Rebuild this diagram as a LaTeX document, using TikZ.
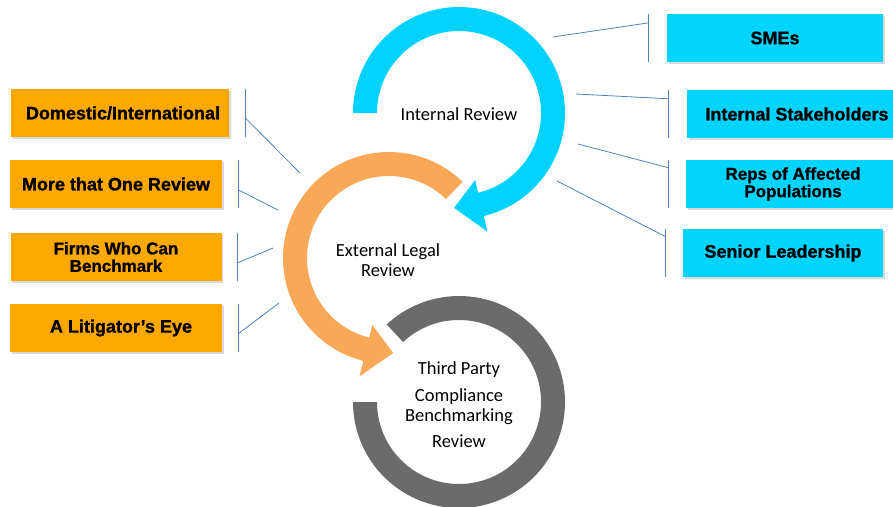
\documentclass[tikz,border=0pt]{standalone}
\usepackage{fontspec}
\setmainfont{Carlito}
\newfontfamily\boxfont[BoldFeatures={FakeBold=1.2}]{Liberation Sans}
\usetikzlibrary{shadows}

\definecolor{ringblue}{HTML}{00D2FF}
\definecolor{ringorange}{HTML}{F9A857}
\definecolor{ringgray}{HTML}{6B6B6B}
\definecolor{boxblue}{HTML}{00D4FF}
\definecolor{boxorange}{HTML}{FFA800}
\definecolor{linkblue}{HTML}{4F81BD}

\tikzset{
	box/.style={shape=rectangle, minimum height=48pt, inner sep=0pt, align=center,
		font=\boxfont\bfseries\fontsize{18}{18}\selectfont,
		drop shadow={shadow xshift=1.5pt, shadow yshift=-2pt, opacity=.3}},
	twoline/.style={font=\boxfont\bfseries\fontsize{17}{17.5}\selectfont},
	ringtext/.style={align=center, font=\fontsize{18.5}{20}\selectfont},
	link/.style={-, line width=.8pt, linkblue}
}

\begin{document}
\begin{tikzpicture}[x=1pt, y=1pt]
			\useasboundingbox (0,0) rectangle (893,-506);

			% the three review rings
			\begin{scope}[shift={(459,-402)}]
			\fill[ringgray] (180:106) arc[start angle=180, end angle=493, radius=106] -- (493:82) arc[start angle=493, end angle=180, radius=82] -- cycle;
			\end{scope}
			\begin{scope}[shift={(389,-258)}]
			\fill[ringorange] (46:106) arc[start angle=46, end angle=256, radius=106] -- (256:122) -- (272.5:95) -- (256:69) -- (256:82) arc[start angle=256, end angle=46, radius=82] -- cycle;
			\end{scope}
			\begin{scope}[shift={(459,-113)}]
			\fill[ringblue] (180:106) arc[start angle=180, end angle=-76.5, radius=106] -- (-76.5:122) -- (-93:95) -- (-76.5:69) -- (-76.5:82) arc[start angle=-76.5, end angle=180, radius=82] -- cycle;
			\end{scope}

			\node[ringtext] (internal) at (459,-114) {Internal Review};
			\node[ringtext] (external) at (388,-260) {External Legal\\Review};
			\node[ringtext] (thirdparty) at (459,-405) {Third Party\\[7pt]Compliance\\Benchmarking\\[6pt]Review};

			% internal side
			\node[box, fill=boxblue, minimum width=216pt] (smes) at (775,-38) {SMEs};
			\node[box, fill=boxblue, minimum width=220pt] (stake) at (797,-114) {Internal Stakeholders};
			\node[box, twoline, fill=boxblue, minimum width=214pt] (reps) at (793,-184) {Reps of Affected\\Populations};
			\node[box, fill=boxblue, minimum width=200pt] (senior) at (783,-253) {Senior Leadership};

			% external side
			\node[box, fill=boxorange, minimum width=218pt] (domestic) at (120,-113) {\hspace{6pt}Domestic/International};
			\node[box, fill=boxorange, minimum width=212pt] (more) at (116,-184) {More that One Review};
			\node[box, twoline, fill=boxorange, minimum width=211pt] (firms) at (116,-257) {Firms Who Can\\Benchmark};
			\node[box, fill=boxorange, minimum width=212pt] (litigator) at (116,-328) {\hspace{10pt}A Litigator’s Eye};

			\coordinate (smesR) at (553,-37);
			\coordinate (stakeR) at (576,-94);
			\coordinate (repsR) at (578,-144);
			\coordinate (seniorR) at (557,-181);
			\coordinate (domesticL) at (300,-173);
			\coordinate (moreL) at (278,-210);
			\coordinate (firmsL) at (273,-248);
			\coordinate (litigatorL) at (279,-303);

			\path [link] ([xshift=-18pt]smes.north west) edge ([xshift=-18pt]smes.south west);
			\path [link] (smesR) edge ([xshift=-18pt, yshift=-9pt]smes.north west);
			\path [link] ([xshift=-18pt]stake.north west) edge ([xshift=-18pt]stake.south west);
			\path [link] (stakeR) edge ([xshift=-18pt, yshift=-9pt]stake.north west);
			\path [link] ([xshift=-17pt]reps.north west) edge ([xshift=-17pt]reps.south west);
			\path [link] (repsR) edge ([xshift=-17pt, yshift=-8pt]reps.north west);
			\path [link] ([xshift=-17pt]senior.north west) edge ([xshift=-17pt]senior.south west);
			\path [link] (seniorR) edge ([xshift=-17pt, yshift=-8pt]senior.north west);

			\path [link] ([xshift=16pt]domestic.north east) edge ([xshift=16pt]domestic.south east);
			\path [link] (domesticL) edge ([xshift=16pt, yshift=-29pt]domestic.north east);
			\path [link] ([xshift=16pt]more.north east) edge ([xshift=16pt]more.south east);
			\path [link] (moreL) edge ([xshift=16pt, yshift=-30pt]more.north east);
			\path [link] ([xshift=16pt]firms.north east) edge ([xshift=16pt]firms.south east);
			\path [link] (firmsL) edge ([xshift=16pt, yshift=-30pt]firms.north east);
			\path [link] ([xshift=16pt]litigator.north east) edge ([xshift=16pt]litigator.south east);
			\path [link] (litigatorL) edge ([xshift=16pt, yshift=-30pt]litigator.north east);
\end{tikzpicture}
\end{document}
